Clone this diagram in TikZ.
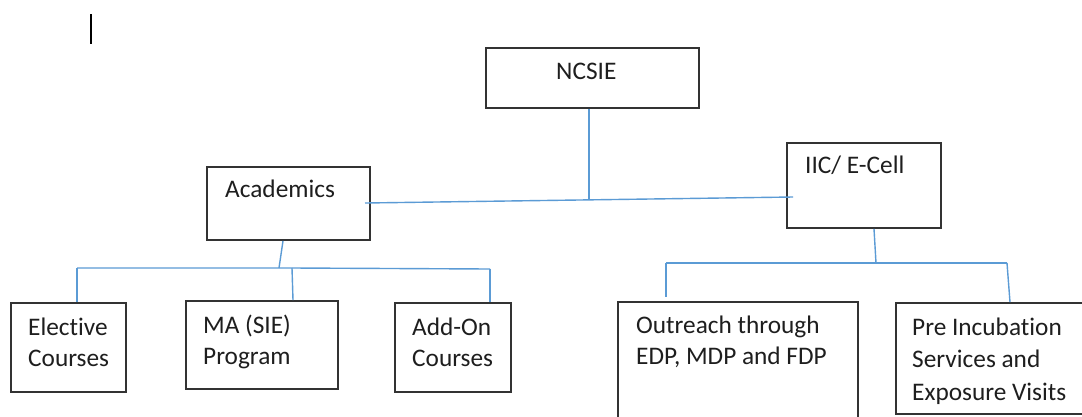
\documentclass[tikz,border=0pt]{standalone}
\usepackage{fontspec}
\setmainfont{Carlito}[Ligatures=NoCommon]
\usetikzlibrary{calc}
\definecolor{conn}{HTML}{5B9BD5}
\definecolor{boxline}{HTML}{333333}
\definecolor{txt}{HTML}{1E1E1E}
\begin{document}
\begin{tikzpicture}[x=1pt,y=-1pt,
  box/.style={draw=boxline,line width=1.8pt,fill=none,inner sep=0pt},
  lbl/.style={text=txt,inner sep=0pt,font=\fontsize{25.3}{30.5}\selectfont,align=left},
  lblwide/.style={text=txt,inner sep=0pt,font=\fontsize{25.3}{32.5}\selectfont,align=left},
  link/.style={draw=conn,line width=1.4pt}]
\useasboundingbox (0,0) rectangle (1082,416);
\clip (0,0) rectangle (1082,416);
\fill[white] (0,0) rectangle (1082,416);
% cursor mark
\coordinate (c1) at (91,14);
\coordinate (c2) at (91,44);
\draw[black,line width=1.3pt] (c1) -- (c2);
% boxes
\node[box,minimum width=213pt,minimum height=60pt] (ncsie) at (592.5,78) {};
\node[box,minimum width=163pt,minimum height=73pt] (acad) at (288.5,203.5) {};
\node[box,minimum width=154pt,minimum height=85pt] (iic) at (864,185.5) {};
\node[box,minimum width=115pt,minimum height=89pt] (elec) at (68.5,347.5) {};
\node[box,minimum width=152pt,minimum height=88pt] (ma) at (262,345) {};
\node[box,minimum width=116pt,minimum height=89pt] (addon) at (453,347.5) {};
\node[box,minimum width=240pt,minimum height=138pt] (outr) at (738,371) {};
\node[box,minimum width=204pt,minimum height=111pt] (pre) at (998,358.5) {};
% labels (base anchor = baseline of last line)
\node[lbl,anchor=base west] (t-ncsie) at (556,79) {NCSIE};
\node[lbl,anchor=base west] (t-acad) at (225,197) {Academics};
\node[lbl,anchor=base west] (t-iic) at (805,173) {IIC/ E-Cell};
\node[lbl,anchor=base west] (t-elec) at (28,366) {Elective\\Courses};
\node[lbl,anchor=base west] (t-ma) at (203,364) {MA (SIE)\\Program};
\node[lbl,anchor=base west] (t-addon) at (412,366) {Add-On\\Courses};
\node[lbl,anchor=base west] (t-outr) at (636,364) {Outreach through\\EDP, MDP and FDP};
\node[lblwide,anchor=base west] (t-pre) at (912,400) {Pre Incubation\\Services and\\Exposure Visits};
% junction coordinates
\coordinate (jTop) at (589,200);
\coordinate (hL) at (365,203);
\coordinate (hR) at (793,197);
\coordinate (aTop) at (283,240);
\coordinate (aJ) at (279,268);
\coordinate (aL) at (77,268);
\coordinate (aM) at (292,268);
\coordinate (aR) at (490,269);
\coordinate (iTop) at (874,228);
\coordinate (iJ) at (876,263);
\coordinate (iL) at (666,263);
\coordinate (iR) at (1007,263);
\coordinate (oEnd) at (666,297);
% connectors
\draw[link] (ncsie.south -| jTop) -- (jTop);
\draw[link] (hL) -- (hR);
\draw[link] (acad.south -| aTop) -- (aJ);
\draw[link] (aL) -- (aJ) -- (aM) -- (aR);
\draw[link] (aL) -- (elec.north -| aL);
\draw[link] (aM) -- ($(ma.north -| aM)+(1,0)$);
\draw[link] (aR) -- (addon.north -| aR);
\draw[link] (iic.south -| iTop) -- (iJ);
\draw[link] (iL) -- (iJ) -- (iR);
\draw[link] (iL) -- (oEnd);
\draw[link] (iR) -- ($(pre.north -| iR)+(3,0)$);
\end{tikzpicture}
\end{document}
